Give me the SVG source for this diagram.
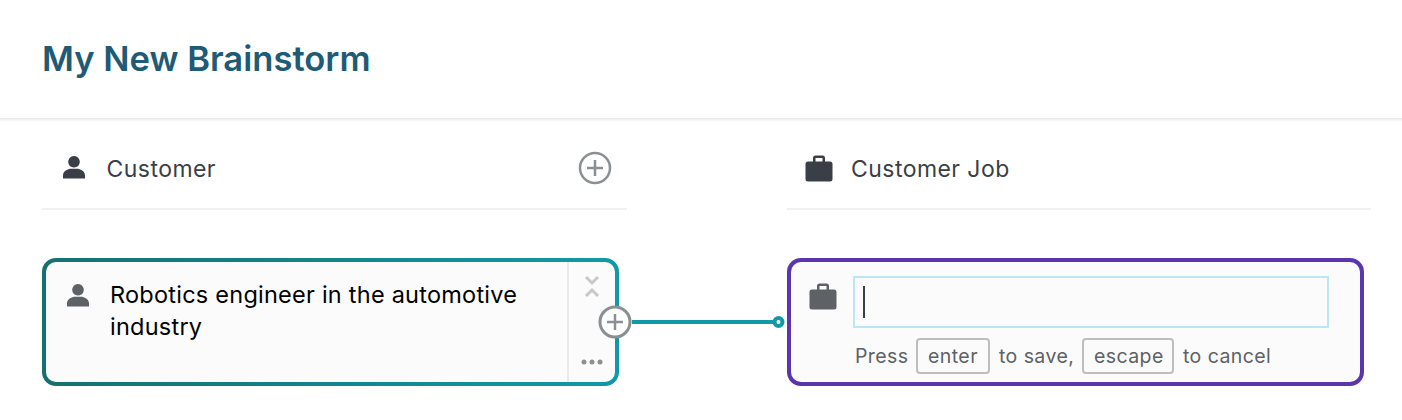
<svg xmlns="http://www.w3.org/2000/svg" width="1402" height="420" viewBox="0 0 1402 420">
<style>
text{font-family:Inter,"Liberation Sans",sans-serif}
.title{font-size:34.6px;font-weight:600;fill:#1f5b75}
.head{font-size:23px;fill:#3a3f47;letter-spacing:.45px}
.card{font-size:23.5px;fill:#000;letter-spacing:.24px}
.hint{font-size:19.5px;fill:#5e6165;letter-spacing:.42px}
.key{fill:none;stroke:#bdbdbd;stroke-width:2}
.plus{fill:#fff;stroke:#8a9092;stroke-width:3}
.pl{fill:none;stroke:#8a9092;stroke-width:2.5}
.chev{fill:none;stroke:#c8c8c8;stroke-width:3}
.rule{fill:#f0f0f0}
</style>
<defs>
<linearGradient id="g" x1="42" y1="0" x2="619" y2="0" gradientUnits="userSpaceOnUse"><stop offset="0" stop-color="#15716f"/><stop offset="1" stop-color="#1199a8"/></linearGradient>
<linearGradient id="sh" x1="0" y1="118" x2="0" y2="122" gradientUnits="userSpaceOnUse"><stop offset="0" stop-color="#e8e8e8"/><stop offset="1" stop-color="#ffffff"/></linearGradient>
<path id="person" d="M0-12a5.800 5.800 0 1 1-.01 0ZM-11 10.500V7.500C-11 3-6 .8-3 .8H3C6 .8 11 3 11 7.500V10.500Z"/>
<path id="brief" fill-rule="evenodd" d="M-6-7.500V-11A2.500 2.500 0 0 1-3.500-13.500H3.500A2.500 2.500 0 0 1 6-11V-7.500H11A2.500 2.500 0 0 1 13.500-5V10A2.500 2.500 0 0 1 11 12.500H-11A2.500 2.500 0 0 1-13.500 10V-5A2.500 2.500 0 0 1-11-7.500ZM-3.500-7.500H3.500V-11H-3.500Z"/>
</defs>
<rect width="1402" height="420" fill="#fff"/>
<g id="page-header">
<rect x="0" y="118" width="1402" height="4" fill="url(#sh)"/>
<text class="title" x="42" y="71">My New Brainstorm</text>
</g>
<g id="column-customer">
<use href="#person" x="74" y="168" fill="#3a3f47"/>
<text class="head" x="106.500" y="177">Customer</text>
<circle cx="595" cy="168" r="15" fill="#fff" stroke="#8a9092" stroke-width="2.500"/>
<path class="pl" d="M587 168H603M595 160V176"/>
<rect class="rule" x="42" y="208" width="585" height="2"/>
</g>
<g id="column-customer-job">
<use href="#brief" x="819" y="169" fill="#3a3f47"/>
<text class="head" x="851" y="177">Customer Job</text>
<rect class="rule" x="787" y="208" width="584" height="2"/>
</g>
<g id="connectors">
<path d="M632 322H775" stroke="#1199a8" stroke-width="4" fill="none"/>
<circle cx="778.500" cy="322" r="4" fill="#fff" stroke="#1199a8" stroke-width="4"/>
</g>
<g id="node-customer">
<rect x="44" y="260" width="573" height="124" rx="12" fill="#fbfbfb" stroke="url(#g)" stroke-width="4"/>
<rect x="567" y="262" width="2" height="120" fill="#ebebeb"/>
<use href="#person" x="78" y="296" fill="#5e6165"/>
<text class="card" x="110" y="303">Robotics engineer in the automotive</text>
<text class="card" x="110" y="335">industry</text>
<path class="chev" d="M586 277L592 283L598 277M586 296L592 290L598 296"/>
<circle cx="584" cy="362" r="2.500" fill="#8f8f8f"/><circle cx="592" cy="362" r="2.500" fill="#8f8f8f"/><circle cx="600" cy="362" r="2.500" fill="#8f8f8f"/>
<circle cx="615" cy="322" r="15" class="plus"/>
<path class="pl" d="M607 322H623M615 314V330"/>
</g>
<g id="node-customer-job">
<rect x="789" y="260" width="573" height="124" rx="12" fill="#fbfbfb" stroke="#5a35ae" stroke-width="4"/>
<use href="#brief" x="823" y="297" fill="#5e6165"/>
<rect x="854" y="277" width="474" height="50" fill="#fbfbfb" stroke="#bde6f5" stroke-width="2"/>
<rect x="863" y="286" width="2" height="32" fill="#3a3f47"/>
<text class="hint" x="855" y="363">Press</text>
<rect class="key" x="917" y="339" width="72" height="34" rx="3"/>
<text class="hint" x="928" y="363">enter</text>
<text class="hint" x="999" y="363">to save,</text>
<rect class="key" x="1083" y="339" width="90" height="34" rx="3"/>
<text class="hint" x="1094" y="363">escape</text>
<text class="hint" x="1183" y="363">to cancel</text>
</g>
</svg>
